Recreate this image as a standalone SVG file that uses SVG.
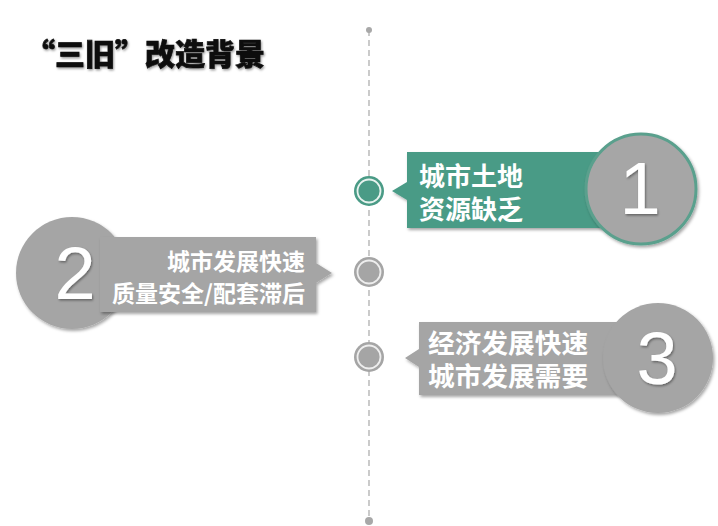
<svg xmlns="http://www.w3.org/2000/svg" width="718" height="526" viewBox="0 0 718 526">
<defs>
<filter id="sh" x="-20%" y="-20%" width="140%" height="140%">
<feDropShadow dx="1.5" dy="2" stdDeviation="1.5" flood-color="#000" flood-opacity="0.35"/>
</filter>
<filter id="tsh" x="-10%" y="-10%" width="120%" height="130%">
<feDropShadow dx="1" dy="1.5" stdDeviation="1" flood-color="#000" flood-opacity="0.4"/>
</filter>
</defs>
<style>
.cn{font-family:"Noto Sans CJK SC","Noto Sans",sans-serif;font-weight:bold;fill:#fff}
.num{font-family:"Liberation Sans","Arial",sans-serif;fill:#fff;text-anchor:middle}
.gray{fill:#a5a5a5}
.green{fill:#4a9b86}
</style>
<rect width="718" height="526" fill="#fff"/>
<text x="25" y="65" font-family="'Noto Sans CJK SC',sans-serif" font-weight="900" font-size="30" fill="#111" stroke="#111" stroke-width="0.7" filter="url(#tsh)">“三旧”改造背景</text>
<g id="connectors">
<line x1="369" y1="30" x2="369" y2="521" stroke="#a8a8a8" stroke-width="1.2" stroke-dasharray="6,4"/>
<circle cx="369" cy="30" r="3" fill="#a8a8a8"/>
<circle cx="369" cy="521" r="4" fill="#a8a8a8"/>
</g>
<g id="marker1">
<circle cx="369" cy="191" r="15" class="green"/>
<circle cx="369" cy="191" r="11.5" fill="none" stroke="#e8f3ef" stroke-width="1.8"/>
</g>
<g id="marker2">
<circle cx="369" cy="272" r="15" class="gray"/>
<circle cx="369" cy="272" r="11.5" fill="none" stroke="#eee" stroke-width="1.8"/>
</g>
<g id="marker3">
<circle cx="369" cy="357" r="15" class="gray"/>
<circle cx="369" cy="357" r="11.5" fill="none" stroke="#eee" stroke-width="1.8"/>
</g>
<g id="node1">
<path d="M407 152 H610 V228 H407 V200 L392 191 L407 182 Z" class="green" filter="url(#sh)"/>
<circle cx="641" cy="189" r="55" fill="#a6a6a6" stroke="#5aa08d" stroke-width="3" filter="url(#sh)"/>
<text x="640" y="214" class="num" font-size="74" filter="url(#tsh)">1</text>
<text x="419" y="186" class="cn" font-size="26">城市土地</text>
<text x="419" y="219" class="cn" font-size="26">资源缺乏</text>
</g>
<g id="node2">
<circle cx="72" cy="273" r="56" class="gray" filter="url(#sh)"/>
<path d="M100 237 H316 V263 L332 273 L316 283 V312 H100 Z" class="gray" filter="url(#sh)"/>
<text x="75" y="299" class="num" font-size="74" filter="url(#tsh)">2</text>
<text x="305" y="270" class="cn" font-size="23" text-anchor="end">城市发展快速</text>
<text x="305" y="302" class="cn" font-size="23" text-anchor="end">质量安全/配套滞后</text>
</g>
<g id="node3">
<path d="M419 322 H630 V395 H419 V367 L405 358 L419 349 Z" class="gray" filter="url(#sh)"/>
<circle cx="658" cy="358" r="55" class="gray" filter="url(#sh)"/>
<text x="657" y="384" class="num" font-size="74" filter="url(#tsh)">3</text>
<text x="428" y="353" class="cn" font-size="26.7">经济发展快速</text>
<text x="428" y="386" class="cn" font-size="26.7">城市发展需要</text>
</g>
</svg>
